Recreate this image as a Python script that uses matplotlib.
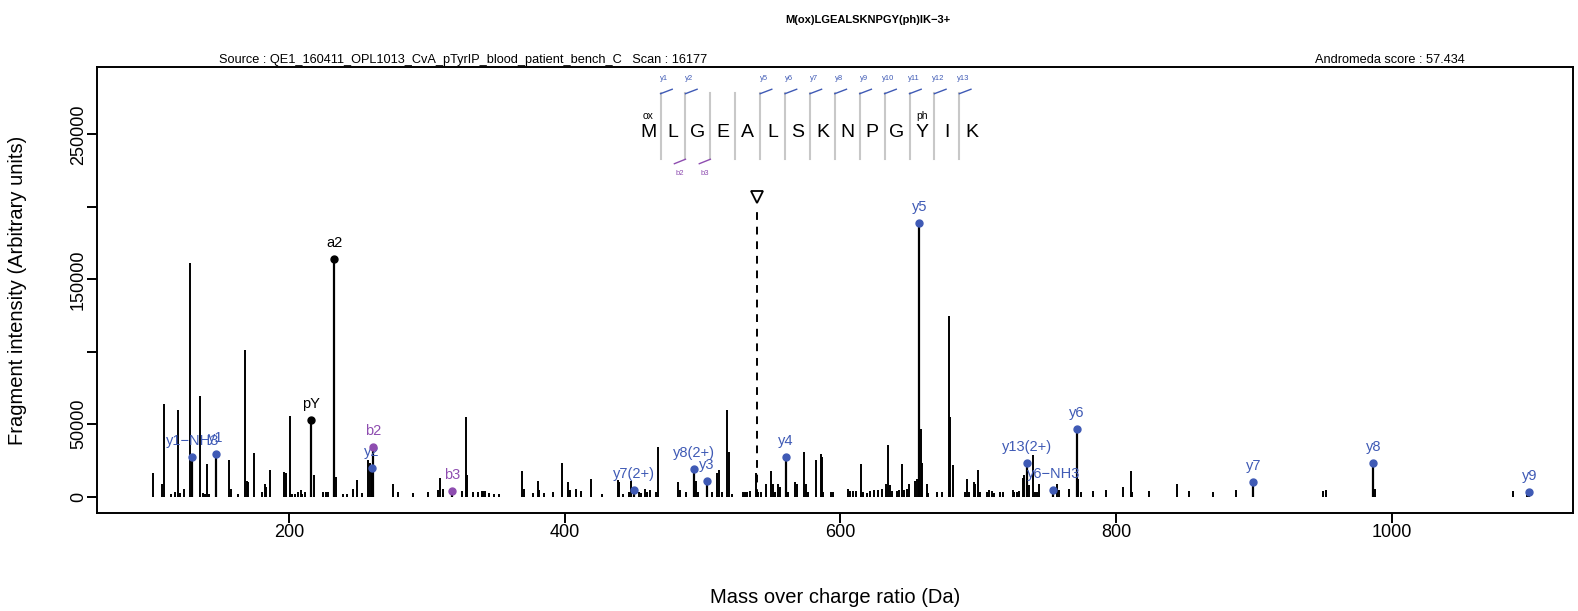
import matplotlib
matplotlib.use("Agg")
import matplotlib.pyplot as plt

plt.rcParams["font.family"] = ["Liberation Sans", "DejaVu Sans"]

# unannotated fragment peaks (m/z, intensity)
peak_mz = [101.5, 108.4, 109.4, 114.4, 117.6, 119.5, 121.2, 123.8, 128.6, 135.7,
           137.6, 139.3, 140.8, 142.4, 156.7, 158.2, 163.0, 168.5, 169.5, 170.7,
           174.6, 180.9, 182.6, 183.5, 186.4, 196.6, 197.8, 200.7, 202.1, 204.8,
           207.0, 208.9, 209.8, 211.8, 218.3, 225.1, 227.0, 228.7, 234.2, 239.1,
           242.0, 246.9, 249.8, 253.4, 257.7, 259.0, 275.9, 279.5, 289.9, 300.8,
           308.0, 309.7, 311.7, 325.4, 328.6, 329.5, 333.4, 337.5, 339.9, 341.0,
           342.4, 345.5, 348.9, 352.5, 368.9, 370.6, 376.9, 380.5, 381.8, 385.4,
           391.9, 397.9, 402.8, 404.0, 408.3, 412.0, 419.0, 427.4, 438.5, 439.8,
           442.7, 446.8, 448.2, 454.3, 455.5, 458.4, 460.1, 462.0, 466.4, 468.0,
           482.1, 483.8, 488.1, 495.1, 497.0, 506.7, 510.3, 512.0, 514.0, 518.1,
           519.3, 521.2, 529.2, 530.9, 532.6, 534.5, 538.6, 540.6, 542.5, 546.1,
           549.7, 551.0, 552.6, 555.1, 556.3, 562.3, 567.1, 568.4, 573.7, 574.9,
           576.3, 582.1, 585.8, 587.0, 587.7, 593.3, 594.5, 605.3, 607.0, 609.4,
           611.4, 615.0, 616.2, 619.1, 621.5, 624.4, 627.6, 630.5, 632.9, 634.6,
           636.0, 637.7, 640.9, 642.8, 644.7, 646.2, 648.6, 650.1, 654.2, 655.9,
           658.3, 659.0, 662.6, 663.8, 669.9, 674.0, 678.8, 679.6, 682.0, 690.4,
           692.1, 693.6, 697.0, 697.7, 700.1, 701.3, 706.1, 707.8, 709.8, 711.5,
           715.8, 717.7, 725.0, 726.2, 727.9, 729.8, 732.2, 733.2, 736.4, 740.0,
           741.2, 742.9, 744.3, 757.4, 758.6, 765.4, 772.6, 774.3, 782.8, 792.4,
           805.2, 810.6, 811.8, 823.9, 844.4, 852.6, 870.0, 886.7, 950.3, 952.0,
           987.8, 1087.6, 1097.7]
peak_int = [16000, 9000, 64000, 2000, 3300, 60000, 2600, 5000, 161000, 69600,
            2600, 2000, 22400, 2000, 25600, 5000, 1700, 101000, 10700, 9800,
            29800, 3300, 9000, 6800, 18300, 17000, 16000, 56000, 2000, 2000,
            3300, 4500, 2000, 3300, 14800, 2900, 2900, 2900, 13700, 2000,
            2000, 5000, 11400, 2600, 25000, 23000, 8400, 3300, 2400, 3300,
            4500, 13000, 5000, 4000, 55100, 14800, 2900, 3300, 3800, 3800,
            3800, 2600, 2000, 2000, 17600, 5000, 2600, 10700, 4500, 2600,
            3300, 22900, 9800, 4500, 5000, 4000, 12000, 2000, 11800, 9800,
            2000, 3300, 10700, 3300, 2600, 5000, 3300, 4500, 3300, 34400,
            9800, 4500, 3300, 10700, 3300, 2900, 16000, 18300, 3300, 59700,
            31000, 2000, 3300, 2900, 3300, 3800, 16000, 3300, 3300, 9000,
            17600, 9000, 2900, 9000, 6800, 3300, 9800, 8400, 30500, 9000,
            2900, 25600, 29300, 27500, 2900, 3300, 3300, 5000, 3800, 3800,
            3800, 22200, 3300, 2600, 3800, 4500, 4500, 5000, 9000, 35500,
            7900, 3800, 3800, 4500, 22200, 4500, 5600, 9000, 10700, 12500,
            47000, 23000, 9000, 2600, 3300, 3300, 124600, 55000, 22000, 3300,
            12500, 2900, 10200, 8400, 18300, 3300, 3300, 4500, 3800, 2600,
            3300, 3300, 4500, 3300, 3300, 3800, 13000, 14800, 7900, 29000,
            3300, 3300, 9000, 9000, 4500, 5000, 12500, 3300, 4000, 4500,
            6800, 17600, 3300, 4000, 9000, 3800, 3300, 4500, 3800, 4500,
            5600, 3800, 3300]

# annotated fragment ions
ion_labels = ["y1\u2212NH3", "y1", "pY", "a2", "y2", "b2", "b3", "y7(2+)", "y8(2+)",
              "y3", "y4", "y5", "y13(2+)", "y6\u2212NH3", "y6", "y7", "y8", "y9"]
ion_types = ["y", "y", "other", "other", "y", "b", "b", "y", "y",
             "y", "y", "y", "y", "y", "y", "y", "y", "y"]
ion_mz = [130.09, 147.11, 216.04, 233.13, 260.20, 261.13, 318.15, 450.22, 493.74,
          503.23, 560.25, 657.30, 735.37, 754.32, 771.34, 899.44, 986.47, 1099.56]
ion_int = [27500, 29300, 52800, 163900, 19900, 34400, 4000, 4900, 19000,
           10700, 27500, 188700, 22900, 4500, 46600, 10000, 23300, 3300]

# precursor
precursor_mz = 539.6
precursor_int = 200000
precursor_mark = 206500

# peptide annotation
residues = list("MLGEALSKNPGYIK")
mods = {0: "ox", 11: "ph"}
y_breaks = [1, 2, 5, 6, 7, 8, 9, 10, 11, 12, 13]
b_breaks = [2, 3]

x_ticks = [200, 400, 600, 800, 1000]
y_ticks = [0, 50000, 100000, 150000, 200000, 250000]
y_ticklabels = ["0", "50000", "", "150000", "", "250000"]

BLUE = "#3F5AB5"
PURPLE = "#8E4DB0"
colors = {"y": BLUE, "b": PURPLE, "other": "black"}


def main():
    fig = plt.figure(figsize=(15.78, 6.11), dpi=100)
    ax = fig.add_axes([0.0617, 0.1599, 0.9352, 0.7298])

    ax.vlines(peak_mz, 0, peak_int, color="black", lw=1.4)
    ax.vlines(ion_mz, 0, ion_int, color="black", lw=1.6)
    for lab, t, mz, it in zip(ion_labels, ion_types, ion_mz, ion_int):
        c = colors[t]
        ax.plot(mz, it, "o", color=c, ms=5, zorder=3)
        ax.annotate(lab, (mz, it), xytext=(0, 11.5), textcoords="offset points",
                    ha="center", va="center", fontsize=10.5, color=c)

    # precursor marker
    ax.vlines(precursor_mz, 0, precursor_int, color="black", lw=1.4,
              linestyles=(0, (4, 3.5)))
    ax.plot(precursor_mz, precursor_mark, "v", ms=9, mfc="white", mec="black", mew=1.3)

    # peptide sequence with fragment flags
    x0, dx = 0.3732, 0.01687
    for i, aa in enumerate(residues):
        ax.text(x0 + i * dx, 0.853, aa, transform=ax.transAxes, ha="center",
                va="center", fontsize=14)
        if i in mods:
            ax.text(x0 + i * dx, 0.8917, mods[i], transform=ax.transAxes,
                    ha="center", va="center", fontsize=7.5)
    for k in range(1, len(residues)):
        sx = x0 + (k - 0.5) * dx
        ax.plot([sx, sx], [0.794, 0.942], color="#C8C8C8", lw=1.5,
                transform=ax.transAxes)
        if k in y_breaks:
            ax.plot([sx, sx + 0.0079], [0.941, 0.951], color=BLUE, lw=1,
                    transform=ax.transAxes)
            ax.text(sx + 0.0027, 0.974, "y%d" % k, transform=ax.transAxes,
                    ha="center", va="center", fontsize=5.5, color=BLUE)
        if k in b_breaks:
            ax.plot([sx, sx - 0.0075], [0.794, 0.784], color=PURPLE, lw=1,
                    transform=ax.transAxes)
            ax.text(sx - 0.004, 0.7625, "b%d" % k, transform=ax.transAxes,
                    ha="center", va="center", fontsize=5.5, color=PURPLE)

    ax.set_xlim(61.2, 1131.3)
    ax.set_ylim(-11500, 296300)
    ax.set_xticks(x_ticks)
    ax.set_yticks(y_ticks)
    ax.set_yticklabels(y_ticklabels, rotation=90, va="center")
    ax.tick_params(direction="out", length=7.5, width=1.4, labelsize=13, pad=0)
    for s in ax.spines.values():
        s.set_linewidth(1.4)

    fig.text(0.0108, 0.525, "Fragment intensity (Arbitrary units)", rotation=90,
             ha="center", va="center", fontsize=14.5)
    fig.text(0.529, 0.0213, "Mass over charge ratio (Da)", ha="center",
             va="center", fontsize=14.5)
    fig.text(0.550, 0.967, "M(ox)LGEALSKNPGY(ph)IK\u22123+", ha="center",
             va="center", fontsize=8, fontweight="bold")
    fig.text(0.2934, 0.901,
             "Source : QE1_160411_OPL1013_CvA_pTyrIP_blood_patient_bench_C   Scan : 16177",
             ha="center", va="center", fontsize=9.2)
    fig.text(0.8808, 0.901, "Andromeda score : 57.434", ha="center", va="center",
             fontsize=9.2)

    fig.savefig("out.png", dpi=100)


if __name__ == "__main__":
    main()
